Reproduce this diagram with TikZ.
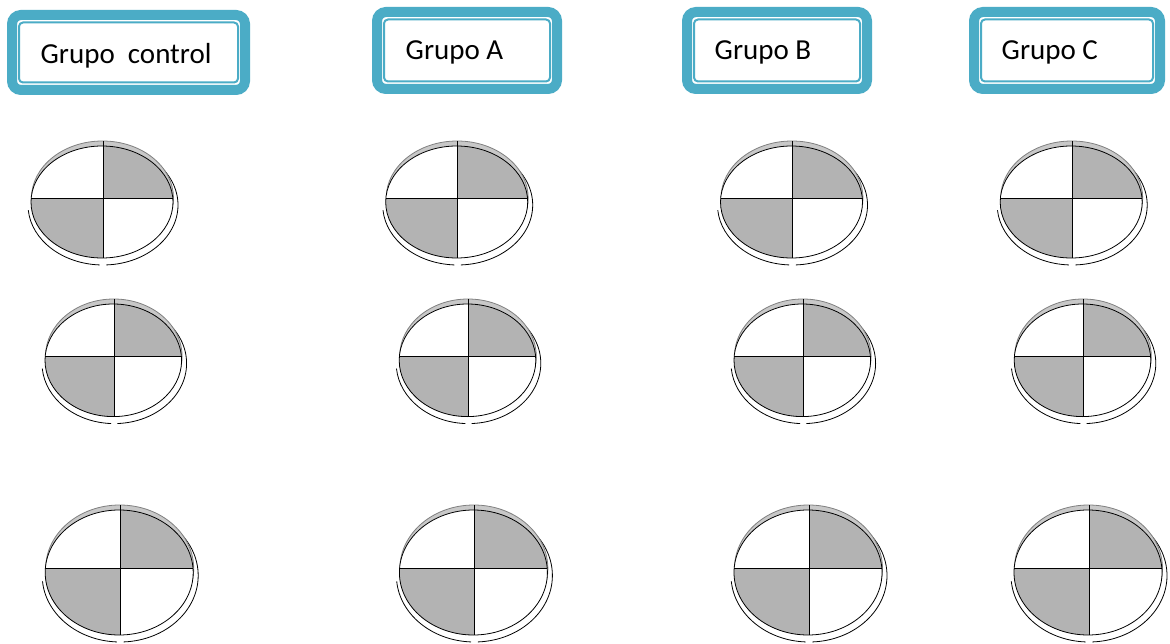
\documentclass[tikz,border=0pt]{standalone}
\usepackage{fontspec}
\setmainfont{Carlito}
\definecolor{boxblue}{HTML}{4BACC6}
\definecolor{quadgray}{HTML}{B3B3B3}
\definecolor{bandgray}{HTML}{C8C8C8}
\tikzset{
  outerframe/.style={draw=boxblue, line width=10pt, rounded corners=9pt},
  innerframe/.style={draw=boxblue, line width=2pt, rounded corners=4pt},
  grptext/.style={inner sep=0pt, anchor=base west, font=\fontsize{29}{34}\selectfont, text=black},
  ring/.style={draw=black, line width=0.8pt},
  band/.style={fill=bandgray, draw=gray, line width=0.8pt},
  pieoutline/.style={draw=black, line width=0.8pt},
  pieline/.style={draw=black, line width=0.9pt},
}
\newcommand\grpbox[4]{%
  \draw[outerframe] ({#1+5},{#2+5}) rectangle ({#3-5},{#4-5});
  \draw[innerframe] ({#1+12},{#2+12.5}) rectangle ({#3-12},{#4-12.5});
}
\newcommand\quadpie[5]{%
  \begin{scope}[shift={(#1,#2)}]
    \coordinate (#5) at (0,0);
    \pgfmathsetmacro\rxr{#3+4}
    \pgfmathsetmacro\ryr{#4+4}
    \draw[ring] ({1+\rxr*cos(175)},{3+\ryr*sin(175)}) arc[start angle=175, end angle=92.5, x radius=\rxr, y radius=\ryr];
    \draw[ring] ({1+\rxr*cos(87.5)},{3+\ryr*sin(87.5)}) arc[start angle=87.5, end angle=-50, x radius=\rxr, y radius=\ryr];
    \filldraw[band] (0.5,-4) ellipse[x radius=#3, y radius={#4+1}];
    \fill[white] (0,0) ellipse[x radius=#3, y radius=#4];
    \begin{scope}
      \clip (0,0) ellipse[x radius=#3, y radius=#4];
      \fill[quadgray] (1,-4) rectangle ({#3+2},{-#4-2});
      \fill[quadgray] ({-#3-2},-4) rectangle (1,{#4+2});
    \end{scope}
    \draw[pieoutline] (0,0) ellipse[x radius=#3, y radius=#4];
    \draw[pieline] ({-#3},-4) -- ({#3},-4);
    \draw[pieline] (1,{-#4-5}) -- (1,#4);
  \end{scope}
}
\begin{document}
\begin{tikzpicture}[x=1pt, y=-1pt]
  \useasboundingbox (0,0) rectangle (1170,644);
  \fill[white] (0,0) rectangle (1170,644);

  % group boxes
  \grpbox{7}{10}{250}{95}
  \grpbox{372}{7}{562}{94}
  \grpbox{682}{7}{872}{94}
  \grpbox{969}{7}{1165}{94}
  \node[grptext] (tctrl) at (40.5,64) {Grupo~~control};
  \node[grptext] (ta) at (405.5,60) {Grupo A};
  \node[grptext] (tb) at (714.5,60) {Grupo B};
  \node[grptext] (tc) at (1001.5,60) {Grupo C};

  % row 1
  \quadpie{102}{202}{71}{56}{p11}
  \quadpie{456.7}{202}{71}{56}{p12}
  \quadpie{791.5}{202}{71}{56}{p13}
  \quadpie{1071.2}{202}{71}{56}{p14}
  % row 2
  \quadpie{113.3}{360.3}{68.3}{56.3}{p21}
  \quadpie{467.5}{360.3}{68.3}{56.3}{p22}
  \quadpie{802.3}{360.3}{68.3}{56.3}{p23}
  \quadpie{1082.5}{360.3}{68.3}{56.3}{p24}
  % row 3
  \quadpie{119.2}{572.5}{74}{62.5}{p31}
  \quadpie{473.4}{572.5}{74}{62.5}{p32}
  \quadpie{808}{572.5}{74}{62.5}{p33}
  \quadpie{1088}{572.5}{74}{62.5}{p34}
\end{tikzpicture}
\end{document}
